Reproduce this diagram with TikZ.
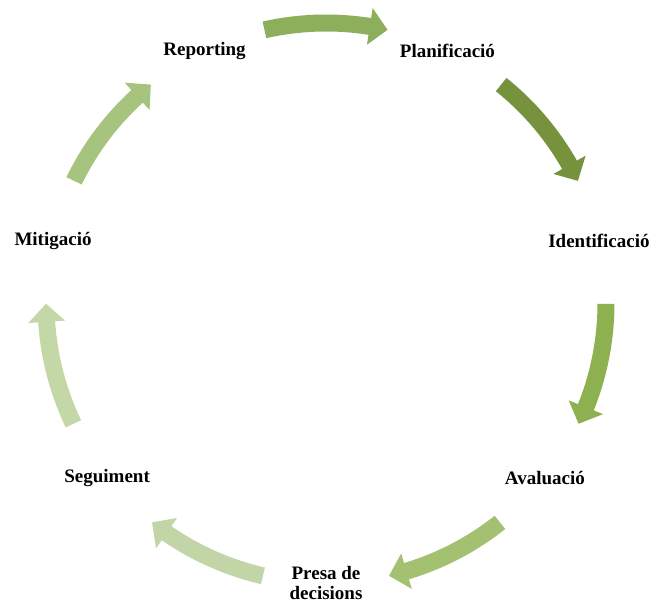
\documentclass[tikz,border=0pt]{standalone}
\usepackage{fontspec}
\setmainfont{Liberation Serif}
\usetikzlibrary{calc}
\definecolor{ca}{HTML}{8DAE5A}
\definecolor{cb}{HTML}{76923C}
\definecolor{cc}{HTML}{8DB050}
\definecolor{cd}{HTML}{A3C170}
\definecolor{ce}{HTML}{C2D5A6}
\definecolor{cf}{HTML}{C4D7A6}
\definecolor{cg}{HTML}{A7C47F}
\tikzset{
  lbl/.style={font=\fontsize{19}{20}\selectfont\bfseries, align=center, inner sep=0pt},
}
\begin{document}
\begin{tikzpicture}[x=1pt,y=1pt]
\useasboundingbox (0,0) rectangle (653,603);
\coordinate (c) at (326,300);
% arrows
\foreach \m/\col in {90/ca, 38.57/cb, -12.86/cc, -64.29/cd, -115.71/ce, -167.14/cf, 141.43/cg} {
  \pgfmathsetmacro{\sa}{\m+12.7}
  \pgfmathsetmacro{\ha}{\m-9.0}
  \pgfmathsetmacro{\ta}{\m-12.7}
  \fill[\col] ($(c)+(\sa:288.5)$) arc[start angle=\sa, end angle=\ha, radius=288.5]
    -- ($(c)+(\ha:298.5)$) -- ($(c)+(\ta:280)$) -- ($(c)+(\ha:261.5)$)
    -- ($(c)+(\ha:271.5)$) arc[start angle=\ha, end angle=\sa, radius=271.5] -- cycle;
}
% labels
\node[lbl] (plan) at ($(c)+(64.29:280)$) {Planificació};
\node[lbl] (iden) at ($(c)+(12.86:280)$) {Identificació};
\node[lbl] (aval) at ($(c)+(-38.57:280)$) {Avaluació};
\node[lbl] (pres) at ($(c)+(-90:280)$) {Presa de\\decisions};
\node[lbl] (segu) at ($(c)+(-141.43:280)$) {Seguiment};
\node[lbl] (miti) at ($(c)+(167.14:280)$) {Mitigació};
\node[lbl] (repo) at ($(c)+(115.71:280)$) {Reporting};
\end{tikzpicture}
\end{document}
